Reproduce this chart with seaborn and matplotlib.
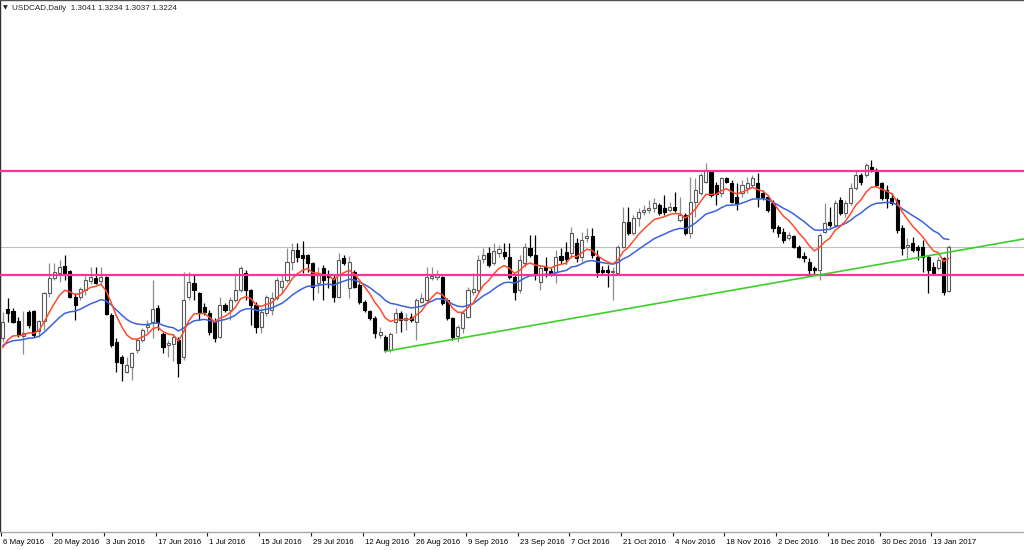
import numpy as np
import pandas as pd
import matplotlib
matplotlib.use("Agg")
import matplotlib.pyplot as plt
import seaborn as sns
from matplotlib.transforms import ScaledTranslation

symbol = "USDCAD"
timeframe = "Daily"

open_ = [1.2846, 1.2967, 1.2958, 1.2917, 1.2854, 1.2954, 1.2958, 1.2875, 1.2917, 1.3033,
         1.3095, 1.3116, 1.3145, 1.3125, 1.3017, 1.3017, 1.3046, 1.3083, 1.3095, 1.3083,
         1.3100, 1.2942, 1.2829, 1.2767, 1.2704, 1.2725, 1.2796, 1.2838, 1.2892, 1.2912,
         1.2971, 1.2863, 1.2817, 1.2821, 1.2838, 1.2767, 1.3017, 1.3075, 1.3033, 1.2975,
         1.2950, 1.2912, 1.2850, 1.2983, 1.2962, 1.3004, 1.3046, 1.3116, 1.3046, 1.2983,
         1.2892, 1.2950, 1.2962, 1.3012, 1.3058, 1.3087, 1.3162, 1.3212, 1.3191, 1.3191,
         1.3158, 1.3075, 1.3137, 1.3112, 1.3095, 1.3017, 1.3179, 1.3054, 1.3120, 1.3066,
         1.2996, 1.2958, 1.2929, 1.2858, 1.2850, 1.2796, 1.2912, 1.2950, 1.2921, 1.2933,
         1.2912, 1.2996, 1.3004, 1.3095, 1.3100, 1.3100, 1.3004, 1.2929, 1.2854, 1.2887,
         1.2933, 1.3037, 1.3046, 1.3175, 1.3199, 1.3158, 1.3199, 1.3204, 1.3183, 1.3100,
         1.3046, 1.3158, 1.3220, 1.3191, 1.3079, 1.3141, 1.3125, 1.3120, 1.3187, 1.3204,
         1.3199, 1.3241, 1.3183, 1.3262, 1.3270, 1.3183, 1.3129, 1.3129, 1.3120, 1.3116,
         1.3224, 1.3328, 1.3283, 1.3345, 1.3370, 1.3378, 1.3387, 1.3399, 1.3387, 1.3378,
         1.3391, 1.3337, 1.3358, 1.3283, 1.3412, 1.3449, 1.3495, 1.3541, 1.3482, 1.3449,
         1.3512, 1.3491, 1.3432, 1.3449, 1.3470, 1.3482, 1.3491, 1.3449, 1.3432, 1.3408,
         1.3308, 1.3287, 1.3262, 1.3270, 1.3224, 1.3187, 1.3162, 1.3137, 1.3129, 1.3287,
         1.3328, 1.3316, 1.3420, 1.3366, 1.3408, 1.3470, 1.3524, 1.3524, 1.3557, 1.3545,
         1.3491, 1.3462, 1.3428, 1.3420, 1.3303, 1.3224, 1.3241, 1.3224, 1.3224, 1.3183,
         1.3141, 1.3137, 1.3179, 1.3041]

high = [1.2954, 1.3012, 1.2971, 1.2933, 1.2958, 1.2962, 1.2962, 1.2921, 1.3037, 1.3158,
        1.3158, 1.3170, 1.3191, 1.3129, 1.3033, 1.3058, 1.3104, 1.3141, 1.3141, 1.3141,
        1.3104, 1.2950, 1.2846, 1.2775, 1.2767, 1.2788, 1.2846, 1.2887, 1.2921, 1.3087,
        1.2983, 1.2871, 1.2838, 1.2863, 1.2850, 1.3120, 1.3120, 1.3112, 1.3037, 1.2992,
        1.2962, 1.2929, 1.3017, 1.2992, 1.3017, 1.3116, 1.3145, 1.3129, 1.3050, 1.2996,
        1.2971, 1.3025, 1.3037, 1.3100, 1.3108, 1.3220, 1.3241, 1.3241, 1.3249, 1.3195,
        1.3162, 1.3141, 1.3150, 1.3129, 1.3108, 1.3199, 1.3191, 1.3187, 1.3129, 1.3075,
        1.3004, 1.2962, 1.2937, 1.2892, 1.2858, 1.2871, 1.2971, 1.2958, 1.2950, 1.2950,
        1.3012, 1.3033, 1.3141, 1.3141, 1.3129, 1.3104, 1.3012, 1.2933, 1.2900, 1.2962,
        1.3058, 1.3116, 1.3191, 1.3220, 1.3224, 1.3241, 1.3233, 1.3241, 1.3241, 1.3108,
        1.3191, 1.3241, 1.3274, 1.3274, 1.3150, 1.3183, 1.3137, 1.3212, 1.3220, 1.3245,
        1.3308, 1.3262, 1.3287, 1.3303, 1.3303, 1.3212, 1.3145, 1.3150, 1.3141, 1.3233,
        1.3391, 1.3391, 1.3358, 1.3387, 1.3399, 1.3420, 1.3428, 1.3408, 1.3441, 1.3412,
        1.3453, 1.3432, 1.3366, 1.3516, 1.3512, 1.3532, 1.3574, 1.3545, 1.3495, 1.3516,
        1.3516, 1.3503, 1.3491, 1.3503, 1.3516, 1.3524, 1.3532, 1.3462, 1.3441, 1.3420,
        1.3316, 1.3303, 1.3287, 1.3274, 1.3233, 1.3204, 1.3179, 1.3145, 1.3283, 1.3408,
        1.3391, 1.3420, 1.3432, 1.3420, 1.3491, 1.3545, 1.3532, 1.3574, 1.3586, 1.3553,
        1.3495, 1.3482, 1.3449, 1.3428, 1.3316, 1.3262, 1.3266, 1.3233, 1.3254, 1.3191,
        1.3162, 1.3183, 1.3183, 1.3234]

low = [1.2829, 1.2912, 1.2908, 1.2850, 1.2779, 1.2887, 1.2850, 1.2850, 1.2879, 1.3017,
       1.3087, 1.3079, 1.3087, 1.3012, 1.2921, 1.3004, 1.3025, 1.3070, 1.3070, 1.3066,
       1.2942, 1.2808, 1.2704, 1.2667, 1.2700, 1.2671, 1.2783, 1.2829, 1.2871, 1.2846,
       1.2879, 1.2783, 1.2767, 1.2750, 1.2684, 1.2754, 1.3004, 1.3004, 1.2921, 1.2942,
       1.2858, 1.2829, 1.2846, 1.2954, 1.2921, 1.2996, 1.3037, 1.3004, 1.2900, 1.2867,
       1.2867, 1.2937, 1.2942, 1.3004, 1.3033, 1.3079, 1.3129, 1.3162, 1.3116, 1.3120,
       1.3004, 1.3033, 1.3004, 1.3054, 1.2996, 1.3012, 1.3150, 1.3012, 1.3054, 1.2987,
       1.2954, 1.2921, 1.2846, 1.2846, 1.2788, 1.2788, 1.2867, 1.2871, 1.2879, 1.2912,
       1.2838, 1.2992, 1.2996, 1.3087, 1.3087, 1.2983, 1.2921, 1.2838, 1.2829, 1.2867,
       1.2929, 1.3025, 1.3037, 1.3158, 1.3141, 1.3150, 1.3183, 1.3175, 1.3091, 1.3004,
       1.3033, 1.3141, 1.3183, 1.3087, 1.3046, 1.3100, 1.3104, 1.3075, 1.3154, 1.3154,
       1.3179, 1.3162, 1.3162, 1.3245, 1.3179, 1.3100, 1.3112, 1.3058, 1.3004, 1.3108,
       1.3220, 1.3274, 1.3274, 1.3312, 1.3358, 1.3366, 1.3370, 1.3358, 1.3358, 1.3370,
       1.3370, 1.3328, 1.3274, 1.3262, 1.3349, 1.3441, 1.3491, 1.3432, 1.3399, 1.3432,
       1.3491, 1.3408, 1.3378, 1.3432, 1.3449, 1.3474, 1.3391, 1.3420, 1.3370, 1.3287,
       1.3266, 1.3241, 1.3254, 1.3220, 1.3179, 1.3162, 1.3108, 1.3108, 1.3087, 1.3283,
       1.3308, 1.3308, 1.3358, 1.3349, 1.3399, 1.3462, 1.3482, 1.3516, 1.3536, 1.3474,
       1.3420, 1.3387, 1.3399, 1.3283, 1.3191, 1.3179, 1.3204, 1.3170, 1.3120, 1.3033,
       1.3108, 1.3129, 1.3025, 1.3037]

close = [1.2912, 1.2950, 1.2912, 1.2858, 1.2867, 1.2900, 1.2858, 1.2917, 1.3033, 1.3095,
         1.3120, 1.3141, 1.3116, 1.3017, 1.2983, 1.3050, 1.3087, 1.3100, 1.3075, 1.3100,
         1.2946, 1.2817, 1.2746, 1.2742, 1.2733, 1.2783, 1.2838, 1.2879, 1.2900, 1.2967,
         1.2912, 1.2808, 1.2825, 1.2850, 1.2742, 1.3004, 1.3079, 1.3046, 1.2950, 1.2954,
         1.2871, 1.2846, 1.2983, 1.2962, 1.3004, 1.3046, 1.3137, 1.3046, 1.2983, 1.2892,
         1.2954, 1.3017, 1.3012, 1.3087, 1.3083, 1.3162, 1.3212, 1.3183, 1.3179, 1.3158,
         1.3058, 1.3108, 1.3087, 1.3100, 1.3017, 1.3170, 1.3158, 1.3162, 1.3058, 1.2996,
         1.2962, 1.2929, 1.2867, 1.2871, 1.2796, 1.2863, 1.2950, 1.2921, 1.2929, 1.2921,
         1.3004, 1.3012, 1.3100, 1.3104, 1.3108, 1.2992, 1.2929, 1.2850, 1.2892, 1.2950,
         1.3046, 1.3050, 1.3170, 1.3191, 1.3150, 1.3208, 1.3216, 1.3187, 1.3100, 1.3037,
         1.3170, 1.3224, 1.3191, 1.3116, 1.3137, 1.3129, 1.3116, 1.3183, 1.3170, 1.3175,
         1.3283, 1.3179, 1.3254, 1.3270, 1.3191, 1.3120, 1.3120, 1.3120, 1.3125, 1.3224,
         1.3328, 1.3283, 1.3345, 1.3370, 1.3378, 1.3387, 1.3408, 1.3366, 1.3370, 1.3391,
         1.3378, 1.3358, 1.3283, 1.3412, 1.3462, 1.3524, 1.3545, 1.3441, 1.3445, 1.3512,
         1.3495, 1.3412, 1.3408, 1.3482, 1.3491, 1.3512, 1.3432, 1.3432, 1.3378, 1.3303,
         1.3283, 1.3254, 1.3274, 1.3224, 1.3183, 1.3179, 1.3129, 1.3129, 1.3274, 1.3324,
         1.3316, 1.3408, 1.3366, 1.3408, 1.3470, 1.3524, 1.3495, 1.3566, 1.3545, 1.3482,
         1.3428, 1.3428, 1.3408, 1.3295, 1.3220, 1.3233, 1.3212, 1.3212, 1.3183, 1.3129,
         1.3116, 1.3170, 1.3037, 1.3224]

tick_bars = list(range(0, 181, 10))
tick_labels = ["6 May 2016", "20 May 2016", "3 Jun 2016", "17 Jun 2016", "1 Jul 2016",
               "15 Jul 2016", "29 Jul 2016", "12 Aug 2016", "26 Aug 2016", "9 Sep 2016",
               "23 Sep 2016", "7 Oct 2016", "21 Oct 2016", "4 Nov 2016", "18 Nov 2016",
               "2 Dec 2016", "16 Dec 2016", "30 Dec 2016", "13 Jan 2017"]

level_high = 1.3541
level_low = 1.3106
trend_bars = [74, 158]
trend_prices = [1.2790, 1.3108]

fast_period, fast_seed = 8, 1.2775
slow_period, slow_seed = 21, 1.2804


def ema(values, period, seed):
    a = 2.0 / (period + 1)
    out, prev = [], seed
    for v in values:
        prev = prev + a * (v - prev)
        out.append(prev)
    return np.array(out)


sns.set_style("white")
plt.rcParams['font.family'] = ['Liberation Sans', 'DejaVu Sans']

df = pd.DataFrame({"bar": np.arange(len(close)), "open": open_, "high": high,
                   "low": low, "close": close})
df["fast"] = ema(df["close"], fast_period, fast_seed)
df["slow"] = ema(df["close"], slow_period, slow_seed)

W, H = 1024, 550
fig = plt.figure(figsize=(W / 100, H / 100), dpi=100)
ax = fig.add_axes([0, 18 / H, 1, 532 / H])
ax.set_facecolor("white")

x_left = -0.52
x_right = x_left + W / 5.17
ax.set_xlim(x_left, x_right)
ax.set_ylim(1.2038, 1.4252)

# reference lines
ax.axhline(close[-1], color="#c0c0c0", lw=0.8, zorder=1)
ax.axhline(level_high, color="#f5359a", lw=1.6, zorder=6)
ax.axhline(level_low, color="#f5359a", lw=1.6, zorder=6)

# candles
bull = df["close"] >= df["open"]
b, r = df[bull], df[~bull]
ax.vlines(b["bar"], b["low"], b["high"], color="#8c8c8c", lw=0.9, zorder=2)
ax.vlines(r["bar"], r["low"], r["high"], color="black", lw=0.9, zorder=2)
ax.bar(b["bar"], b["close"] - b["open"], bottom=b["open"], width=0.6,
       color="white", edgecolor="#5a5a5a", linewidth=0.8, zorder=3)
ax.bar(r["bar"], r["close"] - r["open"], bottom=r["open"], width=0.6,
       color="black", edgecolor="black", linewidth=0.8, zorder=3)

# moving averages
sns.lineplot(data=df, x="bar", y="slow", ax=ax, color="#3a62dc", lw=1.1, legend=False, zorder=4)
sns.lineplot(data=df, x="bar", y="fast", ax=ax, color="#ff4b2b", lw=1.1, legend=False, zorder=5)

# trend line (ray)
slope = (trend_prices[1] - trend_prices[0]) / (trend_bars[1] - trend_bars[0])
tx = np.array([trend_bars[0], x_right])
ty = trend_prices[0] + slope * (tx - trend_bars[0])
sns.lineplot(x=tx, y=ty, ax=ax, color="#3ccf2a", lw=1.2, legend=False, zorder=6)

# axes styling
ax.spines["right"].set_visible(False)
ax.spines["left"].set_color("#303030")
ax.spines["top"].set_color("#505050")
ax.spines["bottom"].set_color("#a8a8a8")
for s in ["left", "top", "bottom"]:
    ax.spines[s].set_linewidth(1.0)
ax.set_yticks([])
ax.set_xlabel("")
ax.set_ylabel("")
ax.set_xticks(np.array(tick_bars) - 0.4)
ax.set_xticklabels(tick_labels, fontsize=5.7, ha="left", color="black")
ax.tick_params(axis="x", length=3, width=0.8, color="#202020", pad=1.8, direction="out")
ax.xaxis.set_ticks_position("bottom")
offset = ScaledTranslation(2 / 100, 0, fig.dpi_scale_trans)
for lbl in ax.get_xticklabels():
    lbl.set_transform(lbl.get_transform() + offset)

# header
fig.text(3 / W, 1 - 8 / H, "\u25BC", fontsize=4.5, va="center", ha="left",
         family=["DejaVu Sans"])
fig.text(12 / W, 1 - 8 / H,
         f"{symbol},{timeframe}  {open_[-1]:.4f} {high[-1]:.4f} {low[-1]:.4f} {close[-1]:.4f}",
         fontsize=5.9, va="center", ha="left")

fig.savefig("out.png", dpi=100)
